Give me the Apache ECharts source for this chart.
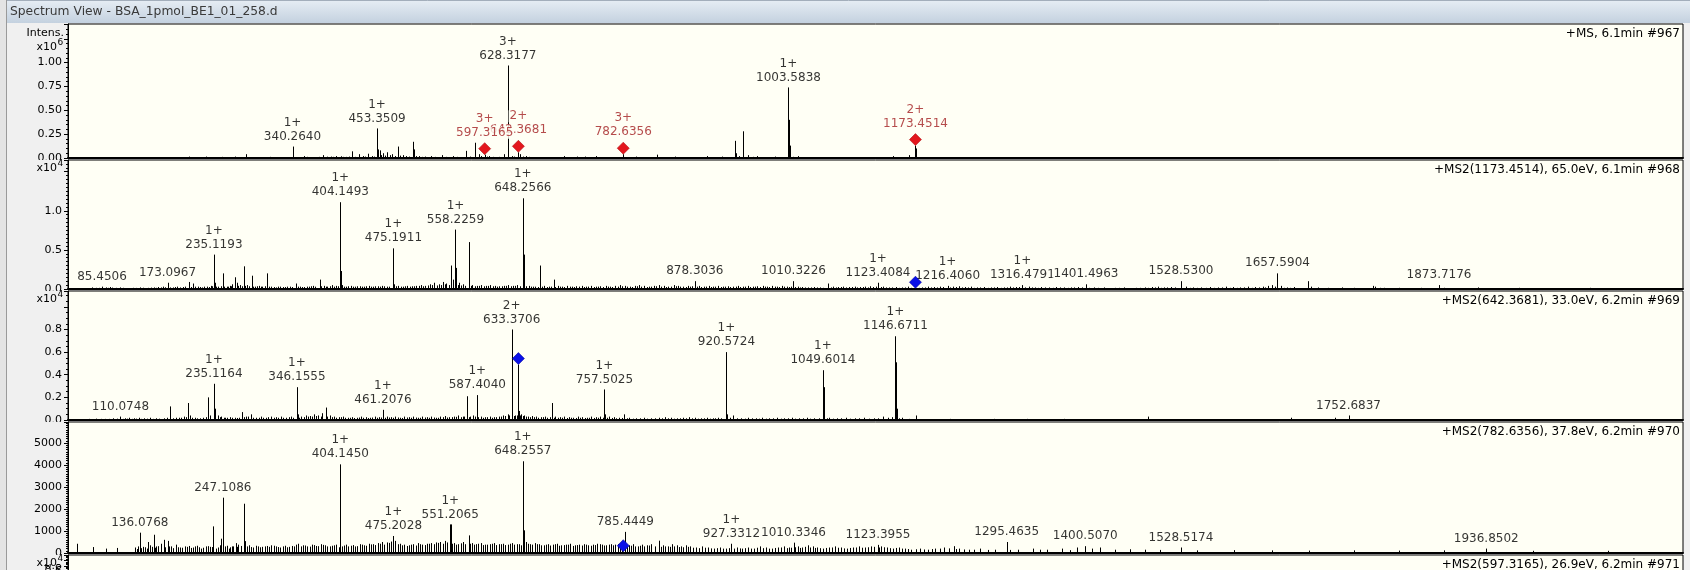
<!DOCTYPE html>
<html>
<head>
<meta charset="utf-8">
<script src="https://cdn.jsdelivr.net/npm/echarts@6/dist/echarts.min.js"></script>
<style>
  html, body { margin: 0; padding: 0; background: #f0f0f0; }
  #c { width: 1690px; height: 570px; }
</style>
</head>
<body>
<div id="c"></div>
<script>
// ---- m/z range shared by every spectrum ----
const MZ_MIN = 40;
const MZ_MAX = 2200;

const windowTitle = 'Spectrum View - BSA_1pmol_BE1_01_258.d';
const scanHeaders = [
  '+MS, 6.1min #967',
  '+MS2(1173.4514), 65.0eV, 6.1min #968',
  '+MS2(642.3681), 33.0eV, 6.2min #969',
  '+MS2(782.6356), 37.8eV, 6.2min #970',
  '+MS2(597.3165), 26.9eV, 6.2min #971'
];
const intensityExponents = ['6', '4', '4', null, '4'];

// ---- scan #967 (MS), intensity x10^6: [m/z, intensity] ----
const ms1Peaks = [
  [202,0.015],[224.6,0.015],[243,0.01],[246,0.012],[264,0.015],[278.5,0.04],[300,0.01],[310,0.012],
  [322,0.01],[340.2640,0.12],[355,0.02],[366,0.01],[381,0.03],[392,0.015],[398,0.02],[405,0.018],
  [412,0.012],[419.5,0.07],[429,0.04],[441,0.045],[453.3509,0.31],[454.35,0.09],[456.8,0.08],[461,0.05],
  [467.3,0.06],[474,0.04],[481.6,0.12],[488,0.03],[501.7,0.17],[502.7,0.09],[510,0.02],[517,0.015],
  [526,0.02],[540,0.03],[555,0.02],[572.3,0.075],[584.3,0.16],[590,0.04],[597.3165,0.035],[603,0.02],
  [622.6,0.04],[628.3177,0.97],[628.65,0.16],[628.98,0.06],[634,0.02],[642.3681,0.06],[645,0.04],
  [652,0.02],[660,0.01],[702.9,0.02],[720.5,0.015],[731,0.015],[746.8,0.02],[760,0.01],[782.6356,0.04],
  [790,0.01],[800,0.015],[815,0.01],[828,0.035],[852,0.015],[894.7,0.02],[914.8,0.015],[932.3,0.18],
  [933.3,0.05],[942.3,0.28],[943.3,0.07],[950,0.03],[962,0.02],[985,0.015],[1003.5838,0.74],
  [1004.58,0.40],[1005.58,0.13],[1016.7,0.02],[1143.4,0.02],[1164.8,0.03],[1173.4514,0.13],[1173.95,0.10]
];
const ms1Minor = [
  [208,0.008],[215,0.006],[231,0.008],[252,0.006],[258,0.008],[270,0.01],[285,0.008],[292,0.006],[316,0.008],
  [330,0.008],[346,0.01],[350,0.008],[360,0.012],[371,0.01],[376,0.012],[386,0.014],[395,0.012],[401,0.01],
  [408,0.012],[416,0.015],[424,0.012],[434,0.02],[437,0.015],[446,0.02],[449,0.015],[459,0.03],[464,0.025],
  [470,0.03],[477,0.02],[484,0.025],[492,0.02],[496,0.015],[506,0.02],[513,0.012],[521,0.01],[531,0.012],
  [535,0.01],[546,0.012],[550,0.01],[560,0.012],[565,0.01],[578,0.015],[593,0.02],[600,0.015],[608,0.012],
  [613,0.01],[617,0.012],[637,0.015],[648,0.015],[656,0.012],[668,0.008],[676,0.006],[690,0.008],[710,0.008],
  [738,0.008],[770,0.006],[806,0.008],[838,0.006],[870,0.008],[925,0.01],[937,0.02],[956,0.012],[972,0.008],
  [1010,0.012],[1025,0.006],[1160,0.01]
];
const ms1Annotations = [[340.2640,'1+'],[453.3509,'1+'],[628.3177,'3+'],[1003.5838,'1+']];
// selected precursors (drawn in this order, later labels on top)
const ms1Precursors = [[642.3681,'2+'],[597.3165,'3+'],[782.6356,'3+'],[1173.4514,'2+']];

// ---- scan #968, MS2 of 1173.4514, intensity x10^4 ----
const ms2aPeaks = [
  [72,0.02],[78,0.015],[85.4506,0.03],[91,0.02],[96,0.025],[104,0.015],[110,0.02],[118,0.012],[127,0.015],
  [136,0.02],[147,0.015],[155,0.02],[160,0.025],[167,0.03],[173.0967,0.08],[180,0.02],[186,0.03],[194,0.025],
  [201.2,0.09],[207,0.07],[214,0.03],[219,0.02],[226,0.03],[231,0.04],[235.1193,0.44],[236.12,0.08],[241,0.03],
  [247.5,0.2],[252,0.03],[256,0.04],[260,0.06],[263.3,0.15],[266,0.08],[270,0.05],[275.2,0.29],[279,0.05],
  [285.8,0.17],[290,0.03],[296,0.04],[300,0.03],[306.3,0.2],[312,0.03],[318,0.02],[324,0.03],[330,0.025],
  [337,0.03],[344.5,0.07],[350,0.03],[356,0.025],[362,0.03],[368,0.04],[376.5,0.12],[382,0.04],[387,0.03],
  [393,0.05],[398,0.04],[404.1493,1.11],[405.15,0.23],[406.15,0.05],[412,0.03],[418,0.04],[424,0.03],
  [430,0.035],[436,0.03],[442,0.04],[448,0.03],[454,0.035],[460,0.04],[466,0.03],[475.1911,0.52],[476.2,0.06],
  [482,0.04],[488,0.03],[494,0.04],[500,0.035],[506,0.04],[512,0.05],[518,0.04],[524,0.06],[530,0.08],
  [536,0.06],[541,0.09],[546,0.07],[552,0.3],[555,0.12],[558.2259,0.76],[559.23,0.27],[563,0.08],[568,0.06],
  [575.8,0.6],[576.8,0.27],[581,0.05],[587,0.04],[593,0.05],[599,0.04],[605,0.05],[611,0.04],[617,0.035],
  [623,0.04],[629,0.05],[635,0.04],[641,0.05],[648.2566,1.16],[649.26,0.44],[650.26,0.08],[656,0.04],
  [662,0.03],[671.6,0.3],[677,0.04],[683,0.03],[689.5,0.12],[695,0.04],[701,0.03],[708,0.04],[714,0.03],
  [720,0.035],[727,0.04],[733,0.03],[740,0.04],[746,0.03],[752,0.035],[759,0.04],[765,0.03],[772,0.04],
  [778,0.05],[785,0.04],[791,0.03],[798,0.04],[804,0.05],[811,0.04],[817,0.03],[824,0.04],[830,0.05],
  [837,0.04],[843,0.03],[850,0.05],[856,0.04],[863,0.03],[869,0.04],[878.3036,0.10],[884,0.04],[890,0.03],
  [897,0.04],[903,0.03],[910,0.04],[916,0.03],[923,0.035],[930,0.03],[936,0.04],[943,0.03],[949,0.04],
  [956,0.03],[962,0.035],[969,0.04],[975,0.03],[982,0.04],[988,0.03],[995,0.04],[1001,0.03],[1010.3226,0.10],
  [1016,0.03],[1022,0.025],[1030,0.02],[1038,0.025],[1046,0.02],[1057,0.07],[1063,0.03],[1070,0.025],
  [1077,0.03],[1084,0.025],[1092,0.03],[1099,0.025],[1106,0.03],[1113,0.035],[1123.4084,0.08],[1130,0.03],
  [1138,0.02],[1147,0.025],[1155,0.02],[1164,0.03],[1173.4514,0.01],[1182,0.02],[1190,0.03],[1198,0.025],
  [1206,0.03],[1216.4060,0.04],[1224,0.03],[1232,0.035],[1240,0.025],[1248,0.03],[1256,0.02],[1265,0.025],
  [1274,0.02],[1283,0.025],[1292,0.02],[1300,0.03],[1308,0.025],[1316.4791,0.05],[1325,0.03],[1333,0.02],
  [1342,0.025],[1352,0.02],[1362,0.025],[1372,0.02],[1382,0.02],[1391,0.025],[1401.4963,0.06],[1412,0.02],
  [1425,0.02],[1440,0.015],[1452,0.02],[1468,0.015],[1480,0.02],[1490,0.025],[1498,0.03],[1506,0.02],
  [1515,0.025],[1528.5300,0.10],[1535,0.03],[1545,0.02],[1556,0.02],[1568,0.025],[1578,0.02],[1589,0.03],
  [1598,0.025],[1608,0.02],[1618,0.03],[1628,0.025],[1638,0.03],[1645,0.04],[1650,0.05],[1657.5904,0.20],
  [1662,0.04],[1670,0.02],[1680,0.025],[1698.7,0.10],[1702,0.03],[1712,0.02],[1725,0.015],[1744,0.02],
  [1760,0.015],[1785,0.04],[1788,0.03],[1800,0.015],[1820,0.015],[1850,0.015],[1873.7176,0.05],[1880,0.015],
  [1926,0.02],[1981,0.015],[2075,0.015],[2154,0.01]
];
const ms2aMinor = [
  [75,0.012],[82,0.015],[88,0.012],[94,0.015],[99,0.018],[107,0.012],[114,0.015],[122,0.012],[131,0.014],
  [140,0.016],[143,0.012],[151,0.018],[158,0.015],[164,0.02],[170,0.022],[177,0.02],[183,0.025],[190,0.02],
  [197,0.03],[204,0.025],[210,0.03],[217,0.025],[222,0.03],[228,0.025],[233,0.035],[238,0.03],[244,0.035],
  [249,0.03],[254,0.03],[258,0.035],[268,0.04],[273,0.035],[277,0.04],[282,0.035],[288,0.03],[293,0.035],
  [298,0.03],[303,0.035],[309,0.03],[315,0.025],[321,0.03],[327,0.025],[333,0.03],[340,0.025],[347,0.03],
  [353,0.025],[359,0.03],[365,0.035],[371,0.03],[378,0.035],[385,0.03],[390,0.035],[396,0.03],[401,0.035],
  [409,0.03],[415,0.035],[421,0.03],[427,0.035],[433,0.03],[439,0.035],[445,0.03],[451,0.035],[457,0.03],
  [463,0.035],[469,0.03],[479,0.035],[485,0.03],[491,0.035],[497,0.03],[503,0.035],[509,0.04],[515,0.035],
  [521,0.045],[527,0.05],[533,0.045],[539,0.05],[544,0.06],[549,0.05],[561,0.05],[566,0.045],[571,0.04],
  [579,0.04],[584,0.035],[590,0.04],[596,0.035],[602,0.04],[608,0.035],[614,0.03],[620,0.035],[626,0.04],
  [632,0.035],[638,0.04],[644,0.035],[653,0.035],[659,0.03],[665,0.03],[668,0.025],[674,0.03],[680,0.025],
  [686,0.03],[692,0.025],[698,0.03],[704,0.025],[711,0.03],[717,0.025],[723,0.03],[730,0.025],[736,0.03],
  [743,0.025],[749,0.03],[755,0.025],[762,0.03],[768,0.025],[775,0.03],[781,0.035],[788,0.03],[794,0.025],
  [801,0.035],[807,0.03],[814,0.025],[820,0.03],[827,0.035],[833,0.03],[840,0.025],[846,0.03],[853,0.035],
  [859,0.03],[866,0.025],[872,0.03],[875,0.035],[881,0.03],[887,0.025],[893,0.03],[900,0.025],[906,0.03],
  [913,0.025],[919,0.03],[926,0.025],[933,0.03],[939,0.025],[946,0.03],[952,0.025],[959,0.03],[965,0.025],
  [972,0.03],[978,0.025],[985,0.03],[991,0.025],[998,0.03],[1004,0.025],[1007,0.03],[1013,0.025],[1019,0.02],
  [1026,0.02],[1034,0.02],[1042,0.02],[1050,0.015],[1060,0.02],[1067,0.02],[1074,0.025],[1081,0.02],
  [1088,0.025],[1095,0.02],[1103,0.025],[1110,0.02],[1117,0.025],[1120,0.03],[1127,0.025],[1134,0.02],
  [1142,0.02],[1151,0.015],[1160,0.02],[1168,0.015],[1178,0.015],[1186,0.02],[1194,0.02],[1202,0.02],
  [1210,0.025],[1220,0.02],[1228,0.025],[1236,0.02],[1244,0.02],[1252,0.015],[1260,0.02],[1270,0.015],
  [1279,0.02],[1288,0.015],[1296,0.02],[1304,0.02],[1312,0.025],[1320,0.02],[1329,0.02],[1338,0.015],
  [1347,0.02],[1357,0.015],[1367,0.02],[1377,0.015],[1386,0.02],[1396,0.02],[1406,0.015],[1418,0.015],
  [1432,0.012],[1446,0.015],[1460,0.012],[1474,0.015],[1485,0.015],[1494,0.02],[1502,0.015],[1510,0.02],
  [1520,0.02],[1540,0.015],[1550,0.015],[1562,0.015],[1573,0.015],[1584,0.02],[1594,0.015],[1603,0.015],
  [1613,0.02],[1623,0.015],[1633,0.02],[1641,0.02],[1654,0.03],[1666,0.015],[1675,0.015],[1690,0.012],
  [1707,0.012],[1718,0.01],[1735,0.012],[1752,0.012],[1770,0.01],[1795,0.015],[1810,0.01],[1835,0.01],
  [1865,0.012]
];
const ms2aAnnotations = [
  [85.4506,''],[173.0967,''],[235.1193,'1+'],[404.1493,'1+'],[475.1911,'1+'],[558.2259,'1+'],[648.2566,'1+'],
  [878.3036,''],[1010.3226,''],[1123.4084,'1+'],[1216.4060,'1+'],[1316.4791,'1+'],[1401.4963,''],
  [1528.5300,''],[1657.5904,''],[1873.7176,'']
];
const ms2aPrecursor = 1173.4514;

// ---- scan #969, MS2 of 642.3681, intensity x10^4 ----
const ms2bPeaks = [
  [68,0.01],[78,0.012],[90,0.01],[100,0.015],[110.0748,0.03],[116,0.015],[122,0.02],[128,0.015],[135,0.02],
  [142,0.015],[150,0.02],[158,0.015],[175.8,0.12],[188,0.02],[195,0.03],[200.7,0.15],[203,0.04],[210,0.02],
  [216,0.015],[227,0.2],[230,0.04],[235.1164,0.32],[236.12,0.1],[240,0.04],[245,0.03],[250,0.02],[256,0.025],
  [263,0.02],[272.8,0.07],[278,0.03],[285,0.05],[292,0.02],[298,0.03],[305,0.02],[312,0.03],[318,0.025],
  [325,0.03],[332,0.02],[338,0.03],[346.1555,0.29],[347.16,0.05],[352,0.03],[358,0.04],[364,0.035],[369,0.05],
  [375,0.04],[380,0.06],[384.6,0.11],[390,0.04],[396,0.03],[402,0.025],[408,0.03],[414,0.02],[420,0.025],
  [426,0.02],[432,0.03],[438,0.025],[444,0.02],[450,0.03],[456,0.025],[461.2076,0.09],[466,0.03],[472,0.025],
  [478,0.03],[484,0.02],[490,0.03],[496,0.025],[502,0.03],[508,0.02],[514,0.03],[520,0.025],[526,0.03],
  [532,0.02],[538,0.03],[544,0.035],[550,0.025],[556,0.03],[562,0.04],[568,0.03],[573.8,0.21],[578,0.03],
  [582,0.04],[587.4040,0.22],[592,0.03],[598,0.025],[604,0.03],[610,0.025],[616,0.03],[622,0.04],[628,0.05],
  [633.3706,0.80],[633.87,0.16],[634.37,0.05],[638,0.04],[642.3681,0.49],[642.87,0.08],[646,0.05],[650,0.04],
  [655,0.03],[660,0.035],[666,0.03],[672,0.025],[678,0.03],[687,0.15],[692,0.03],[698,0.025],[704,0.03],
  [710,0.025],[716,0.02],[722,0.03],[728,0.025],[734,0.02],[740,0.03],[746,0.025],[752,0.03],[757.5025,0.27],
  [758.5,0.05],[764,0.03],[770,0.025],[777,0.02],[784.2,0.05],[790,0.02],[800,0.015],[810,0.02],[820,0.015],
  [830,0.02],[838,0.025],[846,0.02],[854,0.015],[862,0.02],[870,0.025],[878,0.02],[886,0.015],[894,0.02],
  [902,0.015],[910,0.02],[920.5724,0.60],[921.58,0.05],[930,0.04],[940,0.015],[950,0.02],[960,0.015],
  [968,0.02],[978,0.015],[988,0.02],[998,0.015],[1008,0.02],[1018,0.015],[1028,0.02],[1038,0.015],
  [1049.6014,0.44],[1050.6,0.29],[1051.6,0.05],[1058,0.02],[1068,0.015],[1080,0.02],[1092,0.015],[1104,0.02],
  [1118,0.015],[1130,0.03],[1146.6711,0.74],[1147.67,0.51],[1148.67,0.1],[1155,0.02],[1174.7,0.04],
  [1220,0.01],[1278,0.01],[1322,0.01],[1372,0.01],[1484.7,0.03],[1675.7,0.02],[1734,0.02],[1752.6837,0.04]
];
const ms2bMinor = [
  [72,0.008],[84,0.01],[95,0.01],[105,0.012],[113,0.01],[119,0.012],[125,0.01],[131,0.012],[138,0.01],
  [146,0.012],[154,0.01],[162,0.012],[168,0.015],[172,0.02],[180,0.015],[184,0.02],[191,0.02],[198,0.025],
  [206,0.02],[213,0.015],[220,0.02],[224,0.025],[243,0.025],[248,0.02],[253,0.02],[259,0.02],[266,0.018],
  [269,0.02],[275,0.025],[281,0.03],[288,0.02],[295,0.02],[301,0.02],[308,0.025],[315,0.02],[321,0.02],
  [328,0.02],[335,0.025],[341,0.02],[349,0.02],[355,0.025],[361,0.03],[367,0.03],[372,0.035],[378,0.03],
  [387,0.03],[393,0.025],[399,0.02],[405,0.025],[411,0.02],[417,0.02],[423,0.018],[429,0.022],[435,0.02],
  [441,0.018],[447,0.022],[453,0.02],[459,0.022],[464,0.02],[469,0.022],[475,0.02],[481,0.022],[487,0.018],
  [493,0.022],[499,0.02],[505,0.022],[511,0.02],[517,0.022],[523,0.02],[529,0.022],[535,0.02],[541,0.025],
  [547,0.022],[553,0.025],[559,0.028],[565,0.025],[570,0.03],[576,0.025],[584,0.03],[589,0.025],[595,0.02],
  [601,0.025],[607,0.02],[613,0.025],[619,0.03],[625,0.035],[630,0.04],[636,0.035],[640,0.04],[644,0.04],
  [648,0.035],[652,0.03],[658,0.025],[663,0.025],[669,0.02],[675,0.025],[681,0.02],[684,0.025],[690,0.02],
  [695,0.02],[701,0.02],[707,0.018],[713,0.02],[719,0.018],[725,0.02],[731,0.018],[737,0.02],[743,0.018],
  [749,0.02],[755,0.02],[761,0.02],[767,0.018],[773,0.015],[781,0.018],[787,0.015],[795,0.012],[805,0.015],
  [815,0.012],[825,0.015],[834,0.015],[842,0.015],[850,0.012],[858,0.015],[866,0.015],[874,0.015],[882,0.012],
  [890,0.015],[898,0.012],[906,0.015],[914,0.015],[926,0.02],[935,0.015],[945,0.012],[955,0.015],[964,0.012],
  [973,0.012],[983,0.015],[993,0.012],[1003,0.015],[1013,0.012],[1023,0.015],[1033,0.012],[1044,0.015],
  [1055,0.015],[1063,0.012],[1074,0.015],[1086,0.012],[1098,0.015],[1111,0.012],[1124,0.015],[1137,0.02],
  [1142,0.025],[1152,0.015],[1165,0.01]
];
const ms2bAnnotations = [
  [110.0748,''],[235.1164,'1+'],[346.1555,'1+'],[461.2076,'1+'],[587.4040,'1+'],[633.3706,'2+'],
  [757.5025,'1+'],[920.5724,'1+'],[1049.6014,'1+'],[1146.6711,'1+'],[1752.6837,'']
];
const ms2bPrecursor = 642.3681;

// ---- scan #970, MS2 of 782.6356, absolute intensity ----
const ms2cPeaks = [
  [51.9,420],[73.2,270],[91.2,200],[105.6,230],[130,250],[134,300],[136.0768,924],[140,280],[147.2,500],
  [154.4,830],[158,300],[164,420],[167.8,600],[173.5,550],[178,300],[184,380],[190,250],[196,300],[202,320],
  [207,250],[213,330],[218,200],[224,300],[230,280],[234.6,1210],[238,200],[243,350],[245,650],[247.1086,2515],
  [250,300],[255,200],[259,300],[264.2,450],[268,380],[275.2,2240],[277,540],[282,350],[288,250],[294,300],
  [300,280],[306,320],[312,350],[318,300],[324,250],[330,330],[336,280],[342,300],[348,420],[354,350],
  [360,300],[366,380],[372,320],[378,400],[384,350],[390,300],[396,350],[404.1450,4030],[406,300],[412,380],
  [418,330],[424,300],[430,400],[436,350],[442,420],[448,400],[454,450],[460,500],[466,480],[472,520],
  [475.2028,773],[478,550],[484,420],[490,380],[496,350],[502,400],[508,450],[514,380],[520,420],[526,450],
  [532,480],[538,500],[544,550],[551.2065,1300],[552.2,1300],[556,450],[562,400],[568,500],[575.8,800],
  [580,450],[586,400],[592,450],[598,380],[604,400],[610,450],[616,400],[622,420],[628,380],[634,450],
  [640,400],[648.2557,4170],[649.26,1030],[652,500],[658,400],[664,450],[670,400],[676,350],[682,400],
  [688,380],[694,420],[700,350],[706,380],[712,420],[718,350],[724,380],[730,400],[736,350],[742,380],
  [748,420],[754,380],[760,350],[766,400],[772,380],[778,450],[782.6356,60],[785.4449,960],[790,350],
  [796,400],[802,300],[808,380],[814,350],[820,400],[830.5,560],[836,350],[842,300],[848,400],[854,350],
  [860,300],[866,350],[872,300],[880,250],[888,300],[896,250],[904,200],[912,250],[920,200],[927.3312,420],
  [935,250],[942,200],[950,250],[958,200],[966,300],[974,250],[982,200],[990,250],[998,300],[1004,250],
  [1010.3346,470],[1016,300],[1022,250],[1030,350],[1036,300],[1042,250],[1050,200],[1058,250],[1066,300],
  [1074,250],[1082,200],[1090,250],[1098,300],[1106,250],[1114,300],[1123.3955,370],[1128,300],[1136,250],
  [1144,200],[1152,250],[1160,200],[1168,150],[1180,200],[1190,150],[1200,200],[1212,250],[1224.4,310],
  [1232,200],[1245,150],[1260,200],[1280,150],[1295.4635,500],[1310,150],[1330,200],[1350,150],[1370,200],
  [1390,250],[1400.5070,310],[1410,200],[1420,250],[1528.5174,250],[1936.8502,200]
];
const ms2cMinor = [
  [132,180],[138,220],[143,260],[145,200],[150,350],[152,280],[156,240],[161,310],[170,260],[175,300],
  [181,220],[187,260],[193,240],[199,280],[204,230],[210,300],[215,260],[221,240],[227,310],[232,270],
  [240,250],[252,330],[257,260],[261,300],[266,280],[271,320],[280,300],[285,270],[291,330],[297,260],
  [303,300],[309,280],[315,330],[321,270],[327,300],[333,260],[339,320],[345,380],[351,300],[357,340],
  [363,290],[369,360],[375,310],[381,370],[387,300],[393,330],[399,380],[402,260],[409,340],[415,300],
  [421,360],[427,310],[433,380],[439,330],[445,390],[451,360],[457,420],[463,380],[469,460],[481,400],
  [487,350],[493,320],[499,380],[505,340],[511,400],[517,360],[523,420],[529,400],[535,460],[541,420],
  [547,480],[554,420],[559,380],[565,440],[571,400],[578,420],[583,380],[589,420],[595,360],[601,380],
  [607,420],[613,360],[619,400],[625,360],[631,420],[637,380],[643,400],[646,350],[655,420],[661,380],
  [667,400],[673,350],[679,380],[685,340],[691,400],[697,330],[703,360],[709,380],[715,320],[721,360],
  [727,340],[733,380],[739,330],[745,360],[751,400],[757,340],[763,380],[769,350],[775,400],[781,300],
  [788,360],[793,330],[799,300],[805,330],[811,300],[817,340],[825,300],[833,280],[839,300],[845,280],
  [851,300],[857,270],[863,260],[869,280],[876,240],[884,220],[892,240],[900,210],[908,220],[916,200],
  [924,220],[931,200],[939,210],[946,220],[954,200],[962,240],[970,220],[978,200],[986,230],[994,250],
  [1001,220],[1007,240],[1013,260],[1019,230],[1026,280],[1033,250],[1039,230],[1046,220],[1054,230],
  [1062,250],[1070,240],[1078,210],[1086,230],[1094,250],[1102,240],[1110,260],[1118,280],[1125,250],
  [1132,260],[1140,220],[1148,230],[1156,200],[1164,180],[1174,170],[1185,160],[1195,180],[1206,200],
  [1218,210],[1228,180],[1238,160],[1252,150],[1270,140],[1300,140],[1340,150],[1380,130],[1440,150],
  [1460,170],[1480,150],[1500,140],[1550,120],[1600,130],[1650,120],[1700,110],[1760,120],[1820,110],
  [1880,120],[2000,100],[2100,100]
];
const ms2cAnnotations = [
  [136.0768,''],[247.1086,''],[404.1450,'1+'],[475.2028,'1+'],[551.2065,'1+'],[648.2557,'1+'],
  [785.4449,''],[927.3312,'1+'],[1010.3346,''],[1123.3955,''],[1295.4635,''],[1400.5070,''],
  [1528.5174,''],[1936.8502,'']
];
const ms2cPrecursor = 782.6356;

// ---- layout ----
const FONT = 'DejaVu Sans';
const PLOT_LEFT = 68, PLOT_RIGHT = 7;
const BG_PLOT = '#fffff5', BG_WIN = '#f0f0f0';
const RED_TEXT = '#a31f22', RED_MARK = '#e3171d', BLUE_MARK = '#0a10e8';

const panels = [
  { top: 24,  height: 134, yMax: 1.405, interval: 0.25, minor: 5,  labelMax: 1.0,  digits: 2 },
  { top: 160, height: 129, yMax: 1.65,  interval: 0.5,  minor: 10, labelMax: 1.0,  digits: 1 },
  { top: 291, height: 129, yMax: 1.14,  interval: 0.2,  minor: 4,  labelMax: 0.8,  digits: 1 },
  { top: 422, height: 131, yMax: 5955,  interval: 1000, minor: 10, labelMax: 5000, digits: 0 },
  { top: 555, height: 130, yMax: 1.2,   interval: 0.2,  minor: 4,  labelMax: 1.0,  digits: 1 }
];

const spectra = [
  { peaks: ms1Peaks,  minor: ms1Minor,  notes: ms1Annotations,  precursors: ms1Precursors, markColor: RED_MARK, labelPrecursors: true },
  { peaks: ms2aPeaks, minor: ms2aMinor, notes: ms2aAnnotations, precursors: [[ms2aPrecursor, '']], markColor: BLUE_MARK, labelPrecursors: false },
  { peaks: ms2bPeaks, minor: ms2bMinor, notes: ms2bAnnotations, precursors: [[ms2bPrecursor, '']], markColor: BLUE_MARK, labelPrecursors: false },
  { peaks: ms2cPeaks, minor: ms2cMinor, notes: ms2cAnnotations, precursors: [[ms2cPrecursor, '']], markColor: BLUE_MARK, labelPrecursors: false }
];

function heightAt(peaks, mz) {
  const p = peaks.find(d => Math.abs(d[0] - mz) < 1e-6);
  return p ? p[1] : 0;
}

// one crisp vertical stick per centroid
function renderStick(params, api) {
  const mz = api.value(0), h = api.value(1);
  const top = api.coord([mz, h]);
  const base = api.coord([mz, 0]);
  const x = Math.round(top[0]) + 0.5;
  return {
    type: 'line',
    shape: { x1: x, y1: base[1], x2: x, y2: top[1] },
    style: { stroke: '#000', lineWidth: 1 }
  };
}

const labelRich = {
  c: { fontFamily: FONT, fontSize: 12, lineHeight: 14, align: 'center', backgroundColor: BG_PLOT, padding: [0, 1] },
  m: { fontFamily: FONT, fontSize: 12, lineHeight: 14, align: 'center', backgroundColor: BG_PLOT, padding: [0, 1] }
};
function labelText(p) {
  const d = p.data;
  return (d.charge ? '{c|' + d.charge + '}\n' : '') + '{m|' + d.text + '}';
}

const series = [];
spectra.forEach((s, i) => {
  series.push({
    type: 'custom', name: 'peaks' + i, xAxisIndex: i, yAxisIndex: i, z: 2,
    renderItem: renderStick, encode: { x: 0, y: 1 }, data: s.minor.concat(s.peaks), silent: true
  });
  const labelData = s.notes.map(([mz, ch]) => ({
    value: [mz, heightAt(s.peaks, mz)], charge: ch, text: mz.toFixed(4),
    label: { distance: 3, color: '#000' }
  }));
  if (s.labelPrecursors) {
    s.precursors.forEach(([mz, ch]) => labelData.push({
      value: [mz, heightAt(s.peaks, mz)], charge: ch, text: mz.toFixed(4),
      label: { distance: 15, color: RED_TEXT }
    }));
  }
  series.push({
    type: 'scatter', name: 'labels' + i, xAxisIndex: i, yAxisIndex: i, z: 3,
    symbolSize: 0, silent: true, data: labelData,
    label: { show: true, position: 'top', formatter: labelText, rich: labelRich }
  });
  series.push({
    type: 'scatter', name: 'precursor' + i, xAxisIndex: i, yAxisIndex: i, z: 4,
    symbol: 'diamond', symbolSize: 12, symbolOffset: [0, -6], silent: true,
    itemStyle: { color: s.markColor, borderColor: s.markColor === RED_MARK ? '#b01015' : '#0000a0', borderWidth: 0.6, opacity: 1 },
    data: s.precursors.map(([mz]) => [mz, heightAt(s.peaks, mz)])
  });
});

// ---- window chrome and texts ----
function txt(x, y, text, size, align, fill, z) {
  return {
    type: 'text', z: z || 20, x: x, y: y,
    style: { text: text, fontSize: size, fontFamily: FONT, fill: fill || '#000', align: align, verticalAlign: 'middle' }
  };
}
const graphic = [];
graphic.push({ type: 'rect', z: 0, shape: { x: 0, y: 0, width: 6, height: 570 }, style: { fill: '#e4e4e4' } });
graphic.push({ type: 'line', z: 1, shape: { x1: 6.5, y1: 0, x2: 6.5, y2: 570 }, style: { stroke: '#9a9a9a', lineWidth: 1 } });
graphic.push({
  type: 'rect', z: 1, shape: { x: 7, y: 0, width: 1683, height: 23 },
  style: { fill: new echarts.graphic.LinearGradient(0, 0, 0, 1, [
    { offset: 0, color: '#e6edf4' }, { offset: 1, color: '#c4d1df' }
  ]) }
});
graphic.push({ type: 'line', z: 2, shape: { x1: 7, y1: 0.5, x2: 1690, y2: 0.5 }, style: { stroke: '#a3aebb', lineWidth: 1 } });
graphic.push(txt(10, 12, windowTitle, 12.3, 'left', '#3a3a3a', 3));
graphic.push(txt(64, 33, 'Intens.', 11, 'right'));

panels.forEach((p, i) => {
  // lower half of the previous panel's zero label is hidden by this panel
  if (i > 0) {
    graphic.push({ type: 'rect', z: 15, shape: { x: 7, y: p.top, width: 56, height: 9 }, style: { fill: BG_WIN } });
  }
  const exp = intensityExponents[i];
  if (exp) {
    const ey = i === 0 ? p.top + 23 : p.top + 8;
    graphic.push(txt(57, ey, 'x10', 11, 'right'));
    graphic.push(txt(57.5, ey - 4, exp, 9, 'left'));
  }
  graphic.push(txt(1680, p.top + 10, scanHeaders[i], 12, 'right'));
});

const option = {
  animation: false,
  backgroundColor: BG_WIN,
  textStyle: { fontFamily: FONT },
  grid: panels.map(p => ({
    left: PLOT_LEFT, right: PLOT_RIGHT, top: p.top, height: p.height,
    show: true, backgroundColor: BG_PLOT, borderColor: '#000', borderWidth: 1
  })),
  xAxis: panels.map((p, i) => ({
    type: 'value', gridIndex: i, min: MZ_MIN, max: MZ_MAX,
    axisLine: { show: true, onZero: false, lineStyle: { color: '#000', width: 2 } },
    axisTick: { show: false }, axisLabel: { show: false }, splitLine: { show: false }
  })),
  yAxis: panels.map((p, i) => ({
    type: 'value', gridIndex: i, min: 0, max: p.yMax, interval: p.interval,
    axisLine: { show: true, lineStyle: { color: '#000', width: 1 } },
    axisTick: { show: true, inside: false, length: 4, lineStyle: { color: '#000' } },
    minorTick: { show: true, splitNumber: p.minor, length: 2, lineStyle: { color: '#000' } },
    splitLine: { show: false }, minorSplitLine: { show: false },
    axisLabel: {
      margin: 6, fontFamily: FONT, fontSize: 11, color: '#000',
      formatter: v => (v > p.labelMax + 1e-9 ? '' : v.toFixed(p.digits))
    }
  })),
  series: series,
  graphic: graphic
};

const chart = echarts.init(document.getElementById('c'));
chart.setOption(option);
</script>
</body>
</html>
